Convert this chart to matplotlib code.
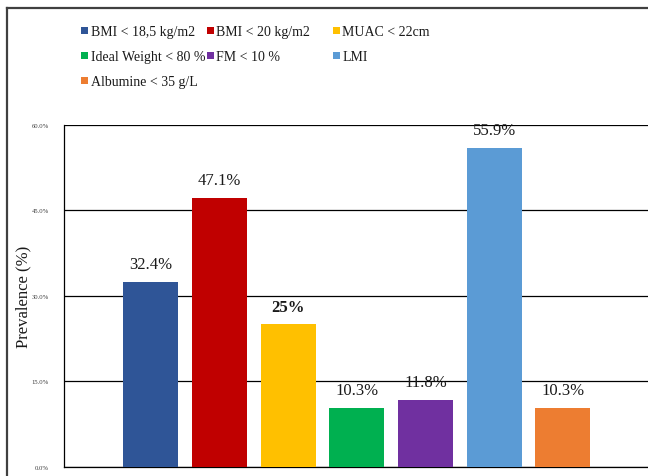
import matplotlib
matplotlib.use("Agg")
import matplotlib.pyplot as plt
from matplotlib.patches import Rectangle
from matplotlib.lines import Line2D

# Indicators and prevalence values (%)
categories = [
    "BMI < 18,5 kg/m2",
    "BMI < 20 kg/m2",
    "MUAC < 22cm",
    "Ideal Weight < 80 %",
    "FM < 10 %",
    "LMI",
    "Albumine < 35 g/L",
]
values = [32.4, 47.1, 25.0, 10.3, 11.8, 55.9, 10.3]
value_labels = ["32.4%", "47.1%", "25%", "10.3%", "11.8%", "55.9%", "10.3%"]
bold_labels = [False, False, True, False, False, False, False]
colors = ["#2F5597", "#C00000", "#FFC000", "#00B050", "#7030A0", "#5B9BD5", "#ED7D31"]
y_ticks = [0, 15, 30, 45, 60]
y_tick_labels = ["0.0%", "15.0%", "30.0%", "45.0%", "60.0%"]

plt.rcParams["font.family"] = ["Liberation Serif", "DejaVu Serif"]

W, H = 648, 477
fig = plt.figure(figsize=(W / 100, H / 100), dpi=100)

def fx(px):
    return px / W

def fy(py):
    return 1 - py / H

# Plot area
ax_left, ax_right, ax_top, ax_bottom = 64, 649.5, 125.5, 468
ax = fig.add_axes([fx(ax_left), fy(ax_bottom), fx(ax_right - ax_left), (ax_bottom - ax_top) / H])

x = list(range(len(values)))
bars = ax.bar(x, values, width=0.8, color=colors, zorder=3)

ax.set_xlim(-1.26, len(values) - 1 + 1.26)
ax.set_ylim(0, 60)
ax.set_yticks(y_ticks)
ax.set_yticklabels(y_tick_labels, fontsize=4.8, color="#404040")
ax.tick_params(axis="y", length=0, pad=11)
ax.set_xticks([])
ax.yaxis.grid(True, color="black", linewidth=0.9, zorder=0)
ax.set_axisbelow(True)

for side in ["top", "right"]:
    ax.spines[side].set_visible(False)
ax.spines["left"].set_color("black")
ax.spines["left"].set_linewidth(0.9)
ax.spines["bottom"].set_color("black")
ax.spines["bottom"].set_linewidth(0.9)

for rect, lab, bold in zip(bars, value_labels, bold_labels):
    ax.annotate(lab, (rect.get_x() + rect.get_width() / 2, rect.get_height()),
                xytext=(0, 7), textcoords="offset points", ha="center", va="bottom",
                fontsize=12, fontweight="bold" if bold else "normal",
                color="#1a1a1a", zorder=5)

# Y axis title
fig.text(fx(23), fy(297), "Prevalence (%)", rotation=90, ha="center", va="center",
         fontsize=12, color="#1a1a1a")

# Legend laid out in three columns, filled row by row
col_x = [81, 206.5, 332.5]
row_y = [31, 56, 81]
sq = 7
for i, (lab, col) in enumerate(zip(categories, colors)):
    r, c = divmod(i, 3)
    x0, y0 = col_x[c], row_y[r]
    fig.patches.append(Rectangle((fx(x0), fy(y0 + sq / 2)), sq / W, sq / H,
                                 transform=fig.transFigure, facecolor=col,
                                 edgecolor="none", figure=fig))
    fig.text(fx(x0 + 10), fy(y0), lab, ha="left", va="center_baseline",
             fontsize=10, color="#1a1a1a")

# Chart border
border_kw = dict(transform=fig.transFigure, color="#404040", linewidth=1.6, figure=fig)
fig.lines.append(Line2D([fx(7), fx(7)], [0, fy(8.5)], **border_kw))
fig.lines.append(Line2D([fx(7), 1], [fy(8.5), fy(8.5)], **border_kw))

fig.savefig("out.png", dpi=100)
